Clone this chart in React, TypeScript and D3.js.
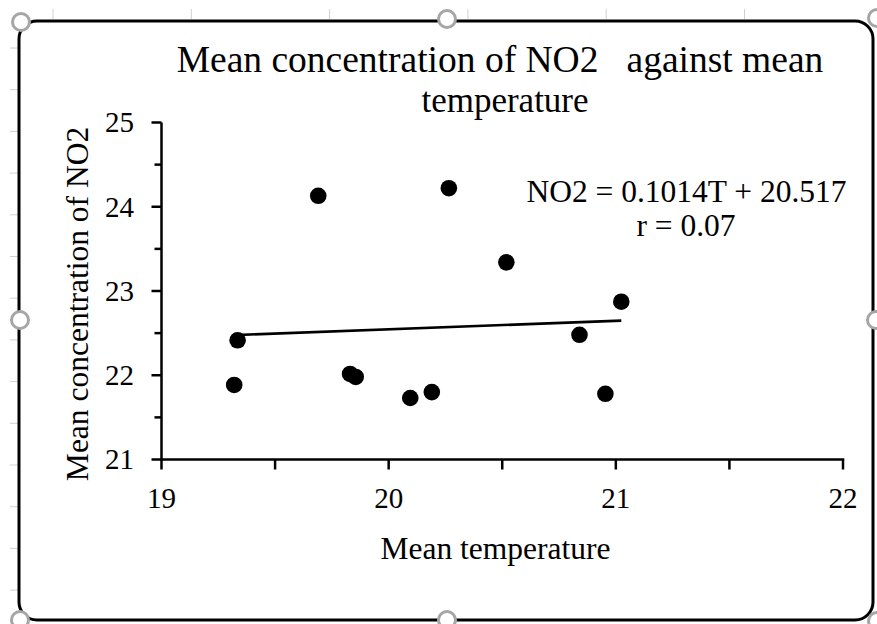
import React from "react";
import * as d3 from "d3";

// ---- data ----
const meanTemperature = [19.69, 20.265, 20.518, 19.335, 19.32, 19.83, 19.855, 20.095, 20.19, 21.024, 20.84, 20.954];
const meanNO2 = [24.13, 24.22, 23.34, 22.415, 21.885, 22.015, 21.98, 21.73, 21.8, 22.873, 22.48, 21.78];
const trendSlope = 0.1014;
const trendIntercept = 20.517;
const xTickValues = [19, 19.5, 20, 20.5, 21, 21.5, 22];
const xTickLabels = ["19", "", "20", "", "21", "", "22"];
const yTickValues = [21, 21.5, 22, 22.5, 23, 23.5, 24, 24.5, 25];
const yTickLabels = ["21", "", "22", "", "23", "", "24", "", "25"];
const titleLines = ["Mean concentration of NO2   against mean", "temperature"];
const equationLines = ["NO2 = 0.1014T + 20.517", "r = 0.07"];
const xAxisTitle = "Mean temperature";
const yAxisTitle = "Mean concentration of NO2";

const W = 877;
const H = 624;
const FONT = "'Liberation Serif', 'Times New Roman', serif";

export default function App() {
  const x = d3.scaleLinear().domain([19, 22]).range([161.5, 843]);
  const y = d3.scaleLinear().domain([21, 25]).range([459.5, 122.5]);

  const tMin = d3.min(meanTemperature) as number;
  const tMax = d3.max(meanTemperature) as number;
  const trendData: [number, number][] = [
    [tMin, trendSlope * tMin + trendIntercept],
    [tMax, trendSlope * tMax + trendIntercept],
  ];
  const line = d3
    .line<[number, number]>()
    .x((d) => x(d[0]))
    .y((d) => y(d[1]));

  const leftGrid = d3.range(48, 620, 41.7);
  const topGrid = d3.range(53, 877, 138.3);

  const handles: [number, number][] = [
    [21, 22],
    [447, 19],
    [877, 18],
    [20, 320],
    [876, 320],
    [20, 620],
    [447, 620],
    [877, 621],
  ];

  return (
    <svg
      width={W}
      height={H}
      viewBox={`0 0 ${W} ${H}`}
      style={{ position: "absolute", left: 0, top: 0, background: "#fff" }}
    >
      <rect x={0} y={0} width={W} height={H} fill="#fff" />
      {/* spreadsheet cell lines peeking around the chart */}
      {leftGrid.map((g, i) => (
        <line key={"lg" + i} x1={10} x2={18} y1={g} y2={g} stroke="#d0d0d0" strokeWidth={1} />
      ))}
      {topGrid.map((g, i) => (
        <line key={"tg" + i} x1={g} x2={g} y1={9} y2={19} stroke="#d0d0d0" strokeWidth={1} />
      ))}

      {/* chart frame */}
      <rect x={19} y={21} width={854} height={599} rx={18} ry={18} fill="#fff" stroke="#000" strokeWidth={3} />

      {/* title */}
      <text x={500} y={71.7} textAnchor="middle" fontFamily={FONT} fontSize={37.5} fill="#000" style={{ whiteSpace: "pre" }}>
        {titleLines[0]}
      </text>
      <text x={505} y={112} textAnchor="middle" fontFamily={FONT} fontSize={35} fill="#000">
        {titleLines[1]}
      </text>

      {/* y axis */}
      <line x1={x(19)} x2={x(19)} y1={y(25)} y2={y(21)} stroke="#000" strokeWidth={2.5} />
      {yTickValues.map((v, i) => (
        <g key={"yt" + i}>
          <line
            x1={x(19) - (yTickLabels[i] ? 10 : 7)}
            x2={x(19)}
            y1={y(v)}
            y2={y(v)}
            stroke="#000"
            strokeWidth={2.5}
          />
          {yTickLabels[i] && (
            <text x={134} y={y(v)} dy="0.34em" textAnchor="end" fontFamily={FONT} fontSize={29} fill="#000">
              {yTickLabels[i]}
            </text>
          )}
        </g>
      ))}

      {/* x axis */}
      <line x1={x(19) - 1.25} x2={x(22) + 1.25} y1={y(21)} y2={y(21)} stroke="#000" strokeWidth={2.5} />
      {xTickValues.map((v, i) => (
        <g key={"xt" + i}>
          <line x1={x(v)} x2={x(v)} y1={y(21)} y2={y(21) + 10} stroke="#000" strokeWidth={2.5} />
          {xTickLabels[i] && (
            <text x={x(v)} y={508} textAnchor="middle" fontFamily={FONT} fontSize={29} fill="#000">
              {xTickLabels[i]}
            </text>
          )}
        </g>
      ))}

      {/* axis titles */}
      <text x={495.5} y={559} textAnchor="middle" fontFamily={FONT} fontSize={31.5} fill="#000">
        {xAxisTitle}
      </text>
      <text
        transform={`translate(88,304) rotate(-90)`}
        textAnchor="middle"
        fontFamily={FONT}
        fontSize={31.5}
        fill="#000"
      >
        {yAxisTitle}
      </text>

      {/* points */}
      {meanTemperature.map((t, i) => (
        <circle key={"p" + i} cx={x(t)} cy={y(meanNO2[i])} r={8.3} fill="#000" />
      ))}

      {/* trendline */}
      <path d={line(trendData) || ""} fill="none" stroke="#000" strokeWidth={2.6} />

      {/* equation */}
      <text x={686.5} y={201.7} textAnchor="middle" fontFamily={FONT} fontSize={31.5} fill="#000">
        {equationLines[0]}
      </text>
      <text x={686} y={236} textAnchor="middle" fontFamily={FONT} fontSize={31.5} fill="#000">
        {equationLines[1]}
      </text>

      {/* selection handles */}
      {handles.map((h, i) => (
        <circle key={"h" + i} cx={h[0]} cy={h[1]} r={8.5} fill="#fff" stroke="#a6a6a6" strokeWidth={3} />
      ))}
    </svg>
  );
}
